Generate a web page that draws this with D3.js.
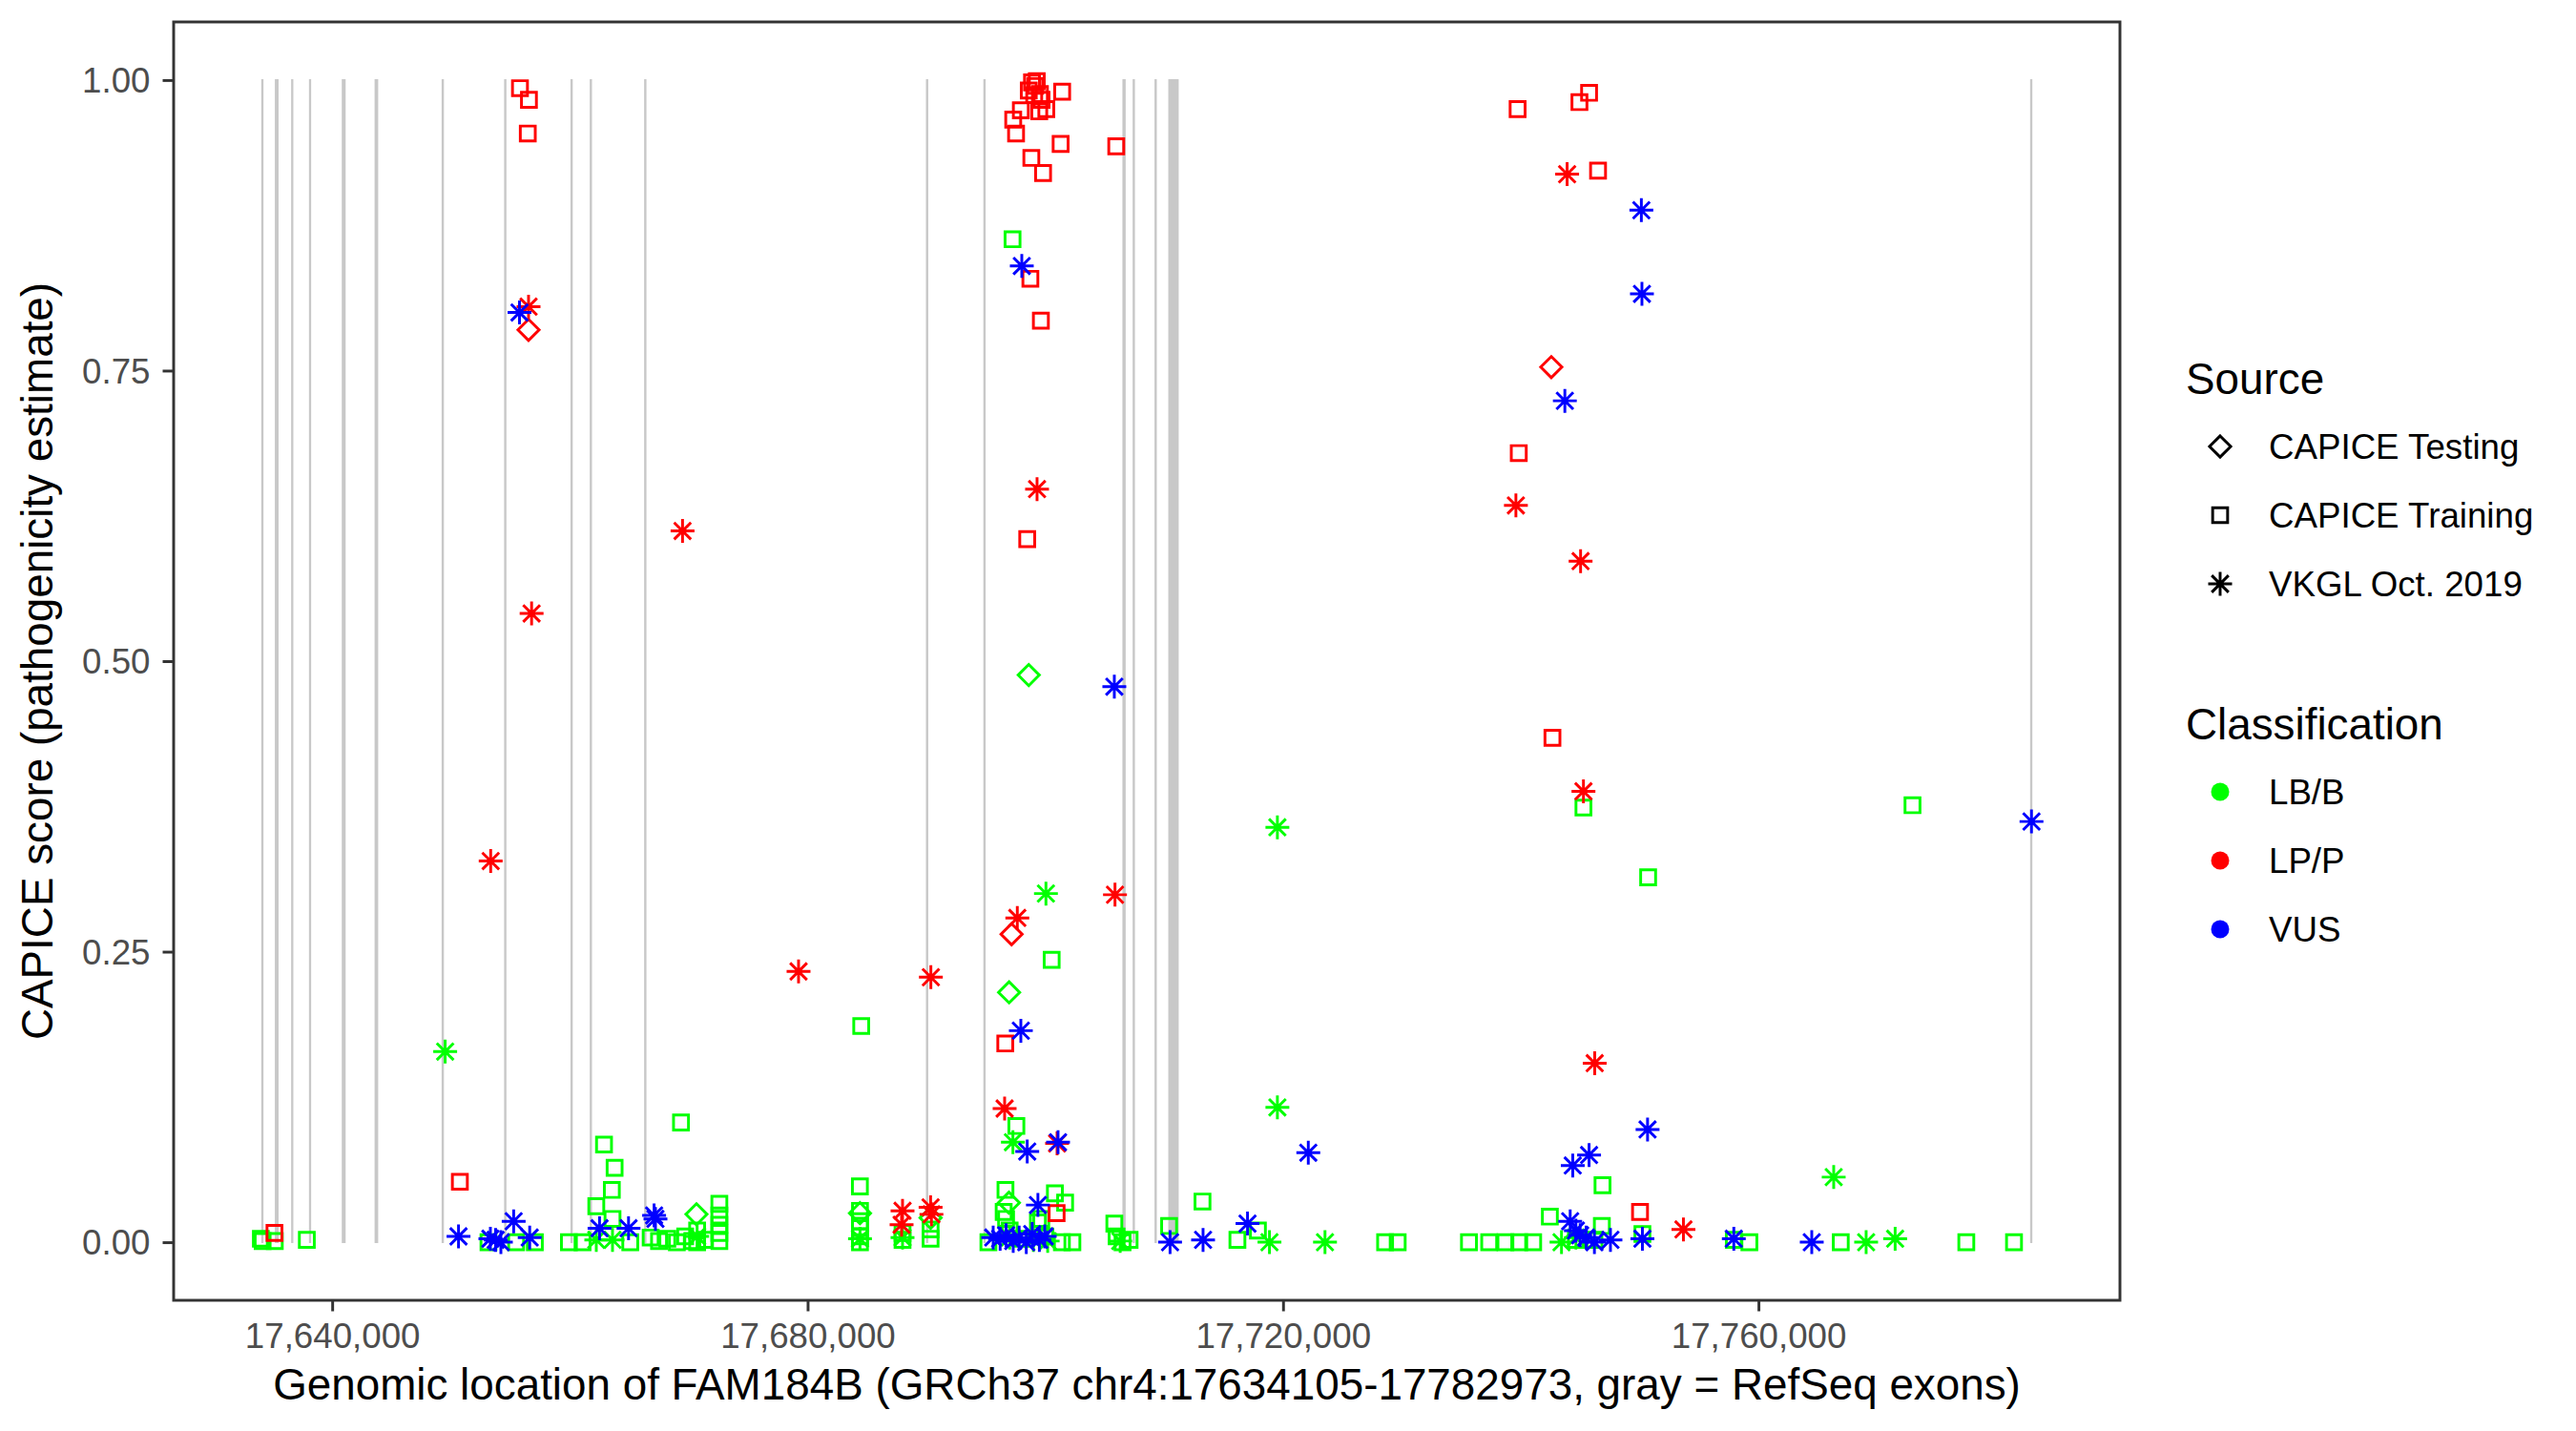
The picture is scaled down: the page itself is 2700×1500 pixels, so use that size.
<!DOCTYPE html>
<html>
<head>
<meta charset="utf-8">
<script src="https://cdn.jsdelivr.net/npm/d3@7"></script>
<style>
  body { margin: 0; background: #fff; }
  text { font-family: "Liberation Sans", Arial, Helvetica, sans-serif; }
</style>
</head>
<body>
<div id="chart"></div>
<script>
// exons of FAM184B (RefSeq), genomic start / end
var exonStarts = [17634105, 17635250, 17636620, 17638120, 17640880, 17643640, 17649280, 17654540,
                  17660120, 17661740, 17666320, 17690030, 17694860, 17706560, 17707420, 17709260,
                  17710420, 17782930];
var exonEnds   = [17634150, 17635420, 17636660, 17638160, 17641060, 17643800, 17649330, 17654590,
                  17660170, 17661790, 17666370, 17690080, 17694910, 17706690, 17707470, 17709310,
                  17711150, 17782973];

var sources = ["CAPICE Testing", "CAPICE Training", "VKGL Oct. 2019"];
var classes = ["LB/B", "LP/P", "VUS"];

var xTicks = [17640000, 17680000, 17720000, 17760000];
var yTicks = [0, 0.25, 0.5, 0.75, 1];

// [position, CAPICE score]
var trainingBenign = [
  [17634000, 0.003], [17634150, 0.001], [17635171, 0.001], [17637868, 0.002],
  [17653151, 0.000], [17655479, 0.000], [17657052, 0.000], [17659918, 0.000], [17661066, 0.000],
  [17662222, 0.031], [17662872, 0.084], [17663530, 0.045], [17663586, 0.020], [17663763, 0.064],
  [17665080, 0.000], [17666797, 0.004], [17667500, 0.001], [17668200, 0.003], [17669000, 0.000],
  [17669349, 0.103], [17669700, 0.005], [17670300, 0.001], [17670706, 0.010], [17670706, 0.000],
  [17671371, 0.002], [17672576, 0.033], [17672576, 0.023], [17672576, 0.015], [17672576, 0.008],
  [17672576, 0.001], [17684400, 0.048], [17684408, 0.027], [17684408, 0.018], [17684408, 0.012],
  [17684408, 0.005], [17684408, 0.000], [17684513, 0.186], [17687988, 0.008], [17687988, 0.002],
  [17690348, 0.011], [17690348, 0.003], [17695213, 0.000], [17696497, 0.026], [17696649, 0.045],
  [17696700, 0.020], [17697000, 0.010], [17697243, 0.863], [17697565, 0.100], [17698000, 0.003],
  [17699378, 0.017], [17699660, 0.020], [17700000, 0.005], [17700535, 0.243], [17700807, 0.042],
  [17701395, 0.000], [17701666, 0.034], [17702278, 0.000], [17705808, 0.016], [17706000, 0.005],
  [17706500, 0.000], [17707092, 0.002], [17710416, 0.014], [17713225, 0.035], [17716163, 0.002],
  [17717889, 0.010], [17728589, 0.000], [17729648, 0.000], [17735645, 0.000], [17737346, 0.000],
  [17738711, 0.000], [17739875, 0.000], [17741047, 0.000], [17742451, 0.022], [17744643, 0.002],
  [17745277, 0.374], [17746200, 0.002], [17746826, 0.014], [17746882, 0.049], [17750238, 0.007],
  [17750719, 0.314], [17757928, 0.002], [17759236, 0.000], [17766926, 0.000], [17772962, 0.376],
  [17777489, 0.000], [17781503, 0.000]
];

var trainingPathogenic = [
  [17635147, 0.008], [17650743, 0.052], [17655800, 0.993], [17656555, 0.983], [17656458, 0.954],
  [17697300, 0.966], [17697540, 0.954], [17697942, 0.974], [17698608, 0.991], [17698744, 0.829],
  [17698825, 0.933], [17698881, 0.998], [17699066, 0.987], [17699146, 0.995], [17699282, 0.999],
  [17699491, 0.973], [17699547, 0.988], [17699627, 0.793], [17699684, 0.983], [17699812, 0.920],
  [17700085, 0.975], [17701289, 0.945], [17701418, 0.990], [17705969, 0.943], [17698479, 0.605],
  [17696633, 0.171], [17700952, 0.025], [17739738, 0.975], [17739835, 0.679], [17742668, 0.434],
  [17744940, 0.981], [17745751, 0.989], [17746505, 0.922], [17750037, 0.026]
];

var testingBenign = [
  [17670650, 0.024], [17684408, 0.025], [17690348, 0.021], [17698608, 0.488], [17696955, 0.215],
  [17696938, 0.034]
];

var testingPathogenic = [
  [17656522, 0.785], [17697163, 0.265], [17742572, 0.753]
];

var vkglBenign = [
  [17649507, 0.164], [17662222, 0.002], [17663586, 0.002], [17670706, 0.005], [17684408, 0.003],
  [17687988, 0.004], [17697000, 0.004], [17697275, 0.086], [17699000, 0.002], [17700053, 0.300],
  [17700200, 0.001], [17706300, 0.001], [17718860, 0.000], [17719527, 0.357], [17719527, 0.116],
  [17723532, 0.000], [17743431, 0.000], [17744643, 0.004], [17766332, 0.056], [17769061, 0.000],
  [17771501, 0.003]
];

var vkglPathogenic = [
  [17653336, 0.328], [17656522, 0.805], [17656779, 0.541], [17669478, 0.612], [17679239, 0.233],
  [17687908, 0.015], [17687988, 0.027], [17690348, 0.030], [17690420, 0.024], [17690372, 0.228],
  [17696577, 0.115], [17697645, 0.279], [17699306, 0.648], [17700992, 0.085], [17705864, 0.299],
  [17739594, 0.634], [17743904, 0.919], [17745036, 0.586], [17745277, 0.388], [17746224, 0.154],
  [17753689, 0.011]
];

var vkglVus = [
  [17650631, 0.005], [17653312, 0.003], [17653753, 0.002], [17654195, 0.000], [17655270, 0.018],
  [17655760, 0.800], [17656619, 0.004], [17662495, 0.012], [17664935, 0.012], [17667086, 0.023],
  [17667200, 0.020], [17695615, 0.004], [17696200, 0.003], [17696700, 0.006], [17697300, 0.001],
  [17697800, 0.004], [17697942, 0.182], [17698022, 0.840], [17698400, 0.000], [17698479, 0.078],
  [17698900, 0.007], [17699378, 0.032], [17699500, 0.002], [17699950, 0.005], [17701072, 0.086],
  [17705808, 0.478], [17710496, 0.000], [17713273, 0.002], [17717014, 0.016], [17722127, 0.077],
  [17743712, 0.724], [17744161, 0.018], [17744378, 0.066], [17744643, 0.010], [17745000, 0.006],
  [17745500, 0.004], [17745751, 0.075], [17746200, 0.000], [17747549, 0.002], [17750149, 0.888],
  [17750198, 0.816], [17750238, 0.003], [17750671, 0.097], [17757928, 0.003], [17764486, 0.000],
  [17782973, 0.362]
];

// series in drawing order
var series = [
  {source: "CAPICE Training", cls: "LB/B", values: trainingBenign},
  {source: "CAPICE Training", cls: "LP/P", values: trainingPathogenic},
  {source: "CAPICE Testing", cls: "LB/B", values: testingBenign},
  {source: "CAPICE Testing", cls: "LP/P", values: testingPathogenic},
  {source: "VKGL Oct. 2019", cls: "LB/B", values: vkglBenign},
  {source: "VKGL Oct. 2019", cls: "LP/P", values: vkglPathogenic},
  {source: "VKGL Oct. 2019", cls: "VUS", values: vkglVus}
];

var width = 2700,
    height = 1500;
var panel = {left: 182, right: 2222, top: 23, bottom: 1363};

var x = d3.scaleLinear()
    .domain([17626662, 17790416])
    .range([panel.left, panel.right]);

var y = d3.scaleLinear()
    .domain([-0.05, 1.05])
    .range([panel.bottom, panel.top]);

var colour = d3.scaleOrdinal()
    .domain(classes)
    .range(["#00ff00", "#ff0000", "#0000ff"]);

// R point shapes 5 (diamond), 0 (square), 8 (asterisk)
var R = 8.84;
function shapePath(source) {
    if (source === "CAPICE Testing") {
        var d = R * 1.2533;
        return "M0," + (-d) + "L" + d + ",0L0," + d + "L" + (-d) + ",0Z";
    } else if (source === "CAPICE Training") {
        var s = R * 0.8862;
        return "M" + (-s) + "," + (-s) + "H" + s + "V" + s + "H" + (-s) + "Z";
    } else {
        var a = R * Math.SQRT2, b = R;
        return "M" + (-a) + ",0H" + a + "M0," + (-a) + "V" + a +
            "M" + (-b) + "," + (-b) + "L" + b + "," + b +
            "M" + (-b) + "," + b + "L" + b + "," + (-b);
    }
}

var svg = d3.select("#chart")
    .append("svg")
    .attr("width", width)
    .attr("height", height);

svg.append("rect")
    .attr("width", width)
    .attr("height", height)
    .attr("fill", "#ffffff");

// exons as gray bands from 0 to 1
var exons = exonStarts.map(function(s, i) { return [s, exonEnds[i]]; });

svg.append("g")
    .selectAll("rect")
    .data(exons)
    .enter()
    .append("rect")
    .attr("x", function(d) { return x(d[0]); })
    .attr("width", function(d) { return Math.max(x(d[1]) - x(d[0]), 0.3); })
    .attr("y", y(1))
    .attr("height", y(0) - y(1))
    .attr("fill", "#c8c8c8")
    .attr("stroke", "#c8c8c8")
    .attr("stroke-width", 1.8);

// points
var points = svg.append("g");

series.forEach(function(ser) {
    points.append("g")
        .selectAll("path")
        .data(ser.values)
        .enter()
        .append("path")
        .attr("transform", function(d) { return "translate(" + x(d[0]) + "," + y(d[1]) + ")"; })
        .attr("d", shapePath(ser.source))
        .attr("fill", "none")
        .attr("stroke", colour(ser.cls))
        .attr("stroke-width", 2.95);
});

// panel border
svg.append("rect")
    .attr("x", panel.left)
    .attr("y", panel.top)
    .attr("width", panel.right - panel.left)
    .attr("height", panel.bottom - panel.top)
    .attr("fill", "none")
    .attr("stroke", "#333333")
    .attr("stroke-width", 2.95);

// axes
var xAxis = svg.append("g")
    .attr("transform", "translate(0," + panel.bottom + ")")
    .call(d3.axisBottom(x)
        .tickValues(xTicks)
        .tickFormat(d3.format(","))
        .tickSize(11.5)
        .tickPadding(12));

var yAxis = svg.append("g")
    .attr("transform", "translate(" + panel.left + ",0)")
    .call(d3.axisLeft(y)
        .tickValues(yTicks)
        .tickFormat(d3.format(".2f"))
        .tickSize(11.5)
        .tickPadding(13));

[xAxis, yAxis].forEach(function(ax) {
    ax.select(".domain").remove();
    ax.selectAll(".tick line")
        .attr("stroke", "#333333")
        .attr("stroke-width", 2.95);
    ax.selectAll(".tick text")
        .attr("fill", "#4d4d4d")
        .style("font-family", "'Liberation Sans', Arial, sans-serif")
        .style("font-size", "36.7px");
});

yAxis.selectAll(".tick text").attr("dy", "0.35em");

// axis titles
svg.append("text")
    .attr("x", (panel.left + panel.right) / 2)
    .attr("y", 1467)
    .attr("text-anchor", "middle")
    .attr("font-size", "45.8px")
    .attr("fill", "#000")
    .text("Genomic location of FAM184B (GRCh37 chr4:17634105-17782973, gray = RefSeq exons)");

svg.append("text")
    .attr("transform", "translate(55," + ((panel.top + panel.bottom) / 2) + ") rotate(-90)")
    .attr("text-anchor", "middle")
    .attr("font-size", "45.8px")
    .attr("fill", "#000")
    .text("CAPICE score (pathogenicity estimate)");

// legends
var legendX = 2291,
    keyX = 2327,
    labelX = 2378,
    step = 72;

var legSource = svg.append("g");

legSource.append("text")
    .attr("x", legendX)
    .attr("y", 413)
    .attr("font-size", "45.8px")
    .text("Source");

legSource.selectAll("path")
    .data(sources)
    .enter()
    .append("path")
    .attr("transform", function(d, i) { return "translate(" + keyX + "," + (468 + i * step) + ")"; })
    .attr("d", function(d) { return shapePath(d); })
    .attr("fill", "none")
    .attr("stroke", "#000")
    .attr("stroke-width", 2.95);

legSource.selectAll(".label")
    .data(sources)
    .enter()
    .append("text")
    .attr("class", "label")
    .attr("x", labelX)
    .attr("y", function(d, i) { return 468 + i * step; })
    .attr("dy", "0.36em")
    .attr("font-size", "36.7px")
    .text(function(d) { return d; });

var legClass = svg.append("g");

legClass.append("text")
    .attr("x", legendX)
    .attr("y", 775)
    .attr("font-size", "45.8px")
    .text("Classification");

legClass.selectAll("circle")
    .data(classes)
    .enter()
    .append("circle")
    .attr("cx", keyX)
    .attr("cy", function(d, i) { return 830 + i * step; })
    .attr("r", 9.5)
    .attr("fill", function(d) { return colour(d); });

legClass.selectAll(".label")
    .data(classes)
    .enter()
    .append("text")
    .attr("class", "label")
    .attr("x", labelX)
    .attr("y", function(d, i) { return 830 + i * step; })
    .attr("dy", "0.36em")
    .attr("font-size", "36.7px")
    .text(function(d) { return d; });
</script>
</body>
</html>
